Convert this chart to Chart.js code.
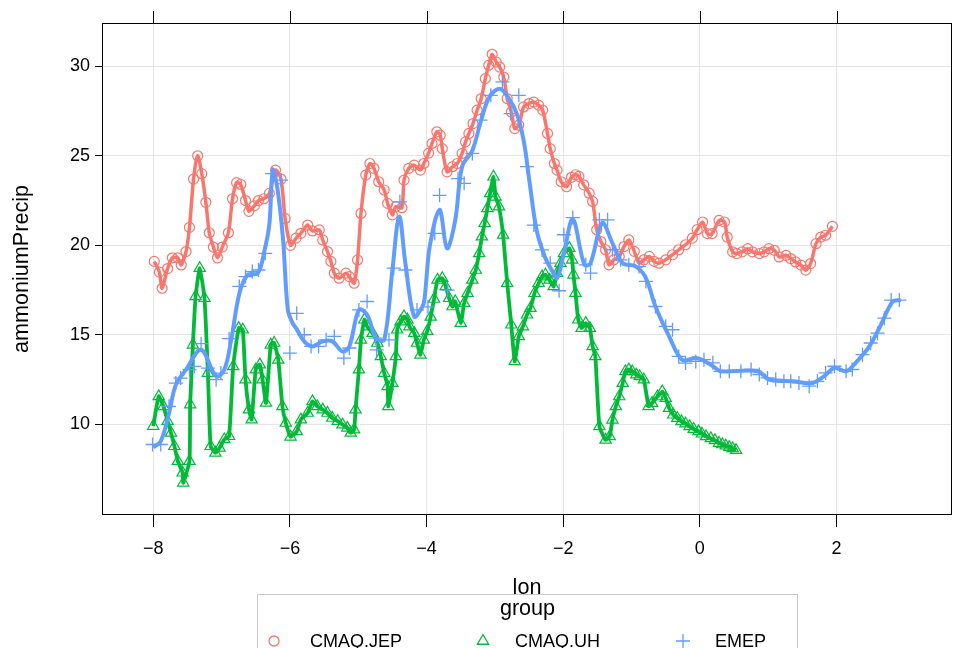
<!DOCTYPE html>
<html><head><meta charset="utf-8">
<script src="https://cdn.jsdelivr.net/npm/chart.js@4.4.1/dist/chart.umd.min.js"></script>
<style>html,body{margin:0;padding:0;background:#fff}#wrap{width:954px;height:648px;position:relative;overflow:hidden}</style>
</head><body><div id="wrap"><canvas id="c" width="954" height="648"></canvas></div>
<script>
// ---- data ----
const xTicks = [-8, -6, -4, -2, 0, 2];
const yTicks = [10, 15, 20, 25, 30];
const groupNames = ['CMAQ.JEP', 'CMAQ.UH', 'EMEP'];

const jepLon = [-7.985,-7.91,-7.87,-7.79,-7.72,-7.64,-7.59,-7.52,-7.47,-7.41,-7.35,-7.29,-7.23,-7.18,-7.12,-7.06,-6.99,-6.9,-6.84,-6.78,-6.72,-6.65,-6.6,-6.52,-6.46,-6.38,-6.3,-6.21,-6.13,-6.07,-5.99,-5.91,-5.84,-5.74,-5.67,-5.57,-5.52,-5.45,-5.4,-5.35,-5.28,-5.18,-5.13,-5.06,-5.01,-4.96,-4.89,-4.83,-4.77,-4.7,-4.62,-4.57,-4.5,-4.45,-4.36,-4.33,-4.26,-4.18,-4.09,-4.04,-3.97,-3.92,-3.85,-3.8,-3.77,-3.7,-3.62,-3.55,-3.48,-3.43,-3.38,-3.32,-3.26,-3.2,-3.14,-3.09,-3.04,-2.98,-2.93,-2.87,-2.82,-2.76,-2.71,-2.65,-2.58,-2.5,-2.43,-2.36,-2.3,-2.23,-2.19,-2.13,-2.09,-2.03,-1.95,-1.88,-1.82,-1.77,-1.7,-1.62,-1.57,-1.51,-1.45,-1.38,-1.33,-1.26,-1.18,-1.11,-1.04,-0.96,-0.89,-0.82,-0.74,-0.67,-0.6,-0.5,-0.4,-0.31,-0.21,-0.11,-0.04,0.04,0.11,0.18,0.28,0.36,0.4,0.48,0.54,0.62,0.7,0.77,0.87,0.94,1.01,1.09,1.16,1.26,1.33,1.4,1.48,1.55,1.62,1.7,1.77,1.84,1.94];
const jepVal = [19.1,18.5,17.6,18.7,19.3,19.3,18.9,19.65,21.0,23.7,25.0,24.0,22.4,20.7,19.9,19.3,19.9,20.7,22.6,23.5,23.4,22.5,21.9,22.2,22.5,22.6,22.9,24.2,23.7,21.5,20.0,20.4,20.67,21.13,20.8,20.86,20.3,19.65,19.1,18.44,18.16,18.44,18.25,17.88,19.18,21.78,23.92,24.57,24.3,23.55,23.09,22.34,21.7,22.16,22.1,23.64,24.3,24.48,24.2,24.57,25.15,25.69,26.34,26.15,25.4,24.1,24.39,24.57,25.13,25.78,26.25,26.8,27.55,28.2,29.31,30.06,30.67,30.24,29.96,29.4,28.2,27.45,26.52,26.71,27.73,27.92,28.0,27.83,27.55,26.25,25.4,24.57,24.2,23.55,23.27,23.8,23.94,23.85,23.38,22.91,22.45,20.87,20.21,19.75,18.91,19.19,19.38,19.93,20.3,19.66,19.0,19.19,19.38,19.1,19.0,19.19,19.47,19.75,20.03,20.4,20.87,21.3,20.65,20.65,21.39,21.3,20.46,19.63,19.54,19.63,19.81,19.63,19.54,19.63,19.81,19.72,19.35,19.44,19.26,19.07,18.89,18.61,18.98,20.09,20.46,20.56,21.06];

const uhLon = [-8.0,-7.92,-7.85,-7.79,-7.74,-7.69,-7.64,-7.57,-7.56,-7.47,-7.46,-7.42,-7.38,-7.32,-7.25,-7.2,-7.16,-7.09,-7.03,-6.96,-6.89,-6.83,-6.75,-6.69,-6.65,-6.6,-6.56,-6.5,-6.44,-6.4,-6.35,-6.28,-6.23,-6.17,-6.11,-6.06,-5.99,-5.9,-5.84,-5.74,-5.67,-5.6,-5.52,-5.45,-5.38,-5.3,-5.23,-5.16,-5.11,-5.06,-5.04,-4.99,-4.96,-4.91,-4.87,-4.79,-4.72,-4.67,-4.62,-4.57,-4.56,-4.5,-4.45,-4.43,-4.38,-4.33,-4.28,-4.25,-4.18,-4.14,-4.09,-4.04,-3.99,-3.94,-3.89,-3.84,-3.77,-3.72,-3.67,-3.62,-3.58,-3.5,-3.45,-3.4,-3.33,-3.28,-3.23,-3.19,-3.15,-3.11,-3.07,-3.02,-2.99,-2.94,-2.88,-2.82,-2.76,-2.71,-2.65,-2.59,-2.53,-2.48,-2.42,-2.36,-2.31,-2.26,-2.2,-2.14,-2.09,-2.04,-1.99,-1.91,-1.87,-1.85,-1.82,-1.78,-1.73,-1.67,-1.61,-1.57,-1.53,-1.47,-1.38,-1.32,-1.28,-1.23,-1.18,-1.13,-1.09,-1.04,-0.99,-0.93,-0.88,-0.82,-0.75,-0.7,-0.62,-0.55,-0.5,-0.45,-0.39,-0.33,-0.27,-0.21,-0.15,-0.09,-0.02,0.03,0.09,0.16,0.22,0.28,0.33,0.38,0.43,0.48,0.53];
const uhVal = [9.9,11.56,11.0,10.17,9.52,8.77,7.94,7.29,6.73,7.94,11.1,14.44,17.14,18.72,17.04,12.86,8.77,8.4,8.68,9.15,9.33,13.23,15.37,15.28,12.49,10.82,10.26,13.05,13.33,12.49,11.19,14.44,14.54,13.6,11.0,10.07,9.3,9.6,10.26,10.63,11.28,11.0,10.82,10.63,10.35,10.17,9.98,9.8,9.52,9.7,10.82,13.05,14.72,15.84,15.46,15.09,14.54,13.79,12.86,12.12,11.0,12.3,13.79,15.28,15.74,16.02,15.84,15.46,15.09,14.54,13.88,14.72,15.2,16.0,17.0,18.07,18.16,17.7,17.04,16.58,16.86,15.65,16.77,17.32,18.07,18.62,19.55,20.48,21.23,22.06,22.9,23.83,22.71,22.16,20.58,17.88,15.56,13.51,14.91,15.46,16.12,16.49,17.32,17.88,18.25,18.35,18.07,17.7,18.44,19.0,19.55,19.84,19.19,18.35,17.33,15.84,15.37,15.65,15.37,14.35,13.79,9.88,9.13,9.32,10.25,11.0,11.55,12.3,12.95,13.05,12.95,12.77,12.67,12.49,11.0,11.18,11.55,11.83,11.46,10.9,10.53,10.34,10.16,10.03,9.88,9.73,9.6,9.47,9.32,9.21,9.1,8.95,8.87,8.8,8.72,8.65,8.55];

const emepLon = [-8.01,-7.89,-7.77,-7.67,-7.6,-7.47,-7.4,-7.3,-7.2,-7.08,-7.01,-6.89,-6.74,-6.65,-6.55,-6.46,-6.36,-6.26,-6.13,-6.0,-5.9,-5.79,-5.69,-5.58,-5.47,-5.35,-5.21,-5.13,-4.99,-4.87,-4.75,-4.73,-4.55,-4.48,-4.39,-4.31,-4.14,-3.98,-3.88,-3.81,-3.69,-3.54,-3.45,-3.33,-3.21,-3.06,-2.89,-2.77,-2.65,-2.53,-2.43,-2.31,-2.19,-2.06,-1.99,-1.86,-1.67,-1.6,-1.47,-1.35,-1.28,-1.16,-1.04,-0.89,-0.79,-0.65,-0.5,-0.4,-0.31,-0.21,-0.06,0.06,0.19,0.3,0.43,0.6,0.75,0.87,0.99,1.11,1.23,1.33,1.45,1.6,1.72,1.84,1.97,2.14,2.23,2.38,2.5,2.6,2.7,2.8,2.92];
const emepVal = [8.87,8.87,11.0,12.3,12.58,13.05,13.23,14.5,13.14,12.49,12.86,14.78,17.7,18.25,18.53,18.62,19.55,24.0,23.64,13.98,16.2,15.0,14.35,14.35,14.72,14.91,13.7,14.26,16.39,16.86,14.81,14.16,14.72,18.72,22.43,18.62,16.39,16.56,20.67,22.79,17.49,23.72,23.46,25.13,26.99,28.38,29.13,27.36,28.38,24.39,21.13,19.74,19.0,17.46,20.59,21.55,18.91,18.45,21.42,21.42,19.75,19.19,18.91,18.82,17.98,16.58,15.47,15.28,13.79,13.42,13.51,13.61,13.43,12.96,12.96,12.96,13.06,12.78,12.59,12.5,12.4,12.4,12.31,12.13,12.4,12.87,13.24,12.96,13.06,13.89,14.54,15.09,15.93,16.94,16.94];

const emepFitLon = [-8.0,-7.89,-7.77,-7.67,-7.52,-7.3,-7.08,-6.96,-6.86,-6.74,-6.62,-6.47,-6.37,-6.3,-6.25,-6.18,-6.1,-6.03,-5.96,-5.91,-5.79,-5.67,-5.52,-5.38,-5.23,-5.13,-4.99,-4.87,-4.74,-4.62,-4.5,-4.4,-4.31,-4.18,-4.06,-4.03,-3.97,-3.93,-3.86,-3.8,-3.7,-3.58,-3.48,-3.33,-3.2,-3.08,-2.93,-2.81,-2.68,-2.58,-2.49,-2.39,-2.27,-2.17,-2.09,-1.99,-1.86,-1.69,-1.6,-1.43,-1.28,-1.13,-0.94,-0.79,-0.65,-0.45,-0.26,-0.06,0.08,0.23,0.3,0.85,1.01,1.36,1.65,1.82,1.97,2.14,2.28,2.48,2.65,2.82,2.94];
const emepFitVal = [8.7,9.05,10.6,12.2,13.05,14.16,12.68,13.05,14.7,17.3,18.35,18.44,19.74,21.2,24.2,23.1,20.3,16.4,15.65,15.37,14.63,14.35,14.63,14.63,14.07,14.35,16.39,16.12,14.81,14.72,18.62,21.6,19.0,16.02,16.58,17.0,19.5,20.4,21.6,21.97,19.83,21.41,24.39,25.3,27.0,28.29,28.75,28.29,27.36,25.87,23.46,20.86,19.37,18.62,18.16,19.55,21.45,18.91,19.0,21.24,20.12,19.0,18.82,18.17,16.58,14.91,13.6,13.7,13.51,13.14,12.96,12.96,12.5,12.4,12.31,12.69,13.15,12.96,13.43,14.35,15.56,16.85,16.94];

// ---- helpers / styling ----
const COL = {jep: '#F8766D', uh: '#00BA38', emep: '#619CFF'};
const FONT = '"Liberation Sans", Arial, Helvetica, sans-serif';
const pts = (xs, ys) => xs.map((x, i) => ({x: x, y: ys[i]}));

const framePlugin = {
  id: 'frame',
  afterDraw(chart) {
    const {ctx, chartArea: a, scales} = chart;
    ctx.save();
    ctx.strokeStyle = '#000';
    ctx.lineWidth = 1;
    ctx.strokeRect(Math.round(a.left) + 0.5, Math.round(a.top) + 0.5,
                   Math.round(a.right - a.left) - 1, Math.round(a.bottom - a.top) - 1);
    // tick marks on the top edge (no labels), as in lattice
    ctx.beginPath();
    xTicks.forEach(v => {
      const px = Math.round(scales.x.getPixelForValue(v)) + 0.5;
      ctx.moveTo(px, Math.round(a.top));
      ctx.lineTo(px, Math.round(a.top) - 12);
    });
    ctx.stroke();
    ctx.restore();
  }
};

function drawSymbol(ctx, kind, x, y, color) {
  ctx.save();
  ctx.strokeStyle = color;
  ctx.lineWidth = 1.3;
  ctx.beginPath();
  if (kind === 'circle') {
    ctx.arc(x, y, 5, 0, Math.PI * 2);
  } else if (kind === 'triangle') {
    const r = 6.5;
    for (let k = 0; k < 3; k++) {
      const ang = k * 2 * Math.PI / 3;
      const px = x + Math.sin(ang) * r, py = y - Math.cos(ang) * r;
      if (k === 0) ctx.moveTo(px, py); else ctx.lineTo(px, py);
    }
    ctx.closePath();
  } else {
    ctx.moveTo(x - 7, y); ctx.lineTo(x + 7, y);
    ctx.moveTo(x, y - 7); ctx.lineTo(x, y + 7);
  }
  ctx.stroke();
  ctx.restore();
}

const legendPlugin = {
  id: 'latticeKey',
  afterDraw(chart) {
    const ctx = chart.ctx;
    ctx.save();
    ctx.strokeStyle = '#c8c8c8';
    ctx.lineWidth = 1;
    ctx.strokeRect(257.5, 594.5, 540, 80);
    ctx.fillStyle = '#000';
    ctx.textBaseline = 'middle';
    ctx.textAlign = 'center';
    ctx.font = '21.6px ' + FONT;
    ctx.fillText('group', 527.5, 609);
    ctx.font = '18px ' + FONT;
    ctx.textAlign = 'left';
    const kinds = ['circle', 'triangle', 'cross'];
    const cols = [COL.jep, COL.uh, COL.emep];
    const symX = [274, 483, 683];
    const txtX = [310, 515, 715];
    groupNames.forEach((g, i) => {
      drawSymbol(ctx, kinds[i], symX[i], 641, cols[i]);
      ctx.fillStyle = '#000';
      ctx.fillText(g, txtX[i], 642);
    });
    ctx.restore();
  }
};

const gridCol = '#e6e6e6';

new Chart(document.getElementById('c'), {
  type: 'scatter',
  data: {
    datasets: [
      {
        label: groupNames[0], data: pts(jepLon, jepVal), showLine: true, order: 3,
        borderColor: COL.jep, borderWidth: 3.5, tension: 0.25,
        pointStyle: 'circle', pointRadius: 5, pointBorderWidth: 1.2,
        pointBorderColor: COL.jep, pointBackgroundColor: 'rgba(0,0,0,0)'
      },
      {
        label: groupNames[1], data: pts(uhLon, uhVal), showLine: true, order: 2,
        borderColor: COL.uh, borderWidth: 3.8, tension: 0.15,
        pointStyle: 'triangle', pointRadius: 6.5, pointBorderWidth: 1.2,
        pointBorderColor: COL.uh, pointBackgroundColor: 'rgba(0,0,0,0)'
      },
      {
        label: groupNames[2] + ' smooth', data: pts(emepFitLon, emepFitVal), showLine: true, order: 1,
        borderColor: COL.emep, borderWidth: 4, tension: 0.35, pointRadius: 0
      },
      {
        label: groupNames[2], data: pts(emepLon, emepVal), showLine: false, order: 0,
        pointStyle: 'cross', pointRadius: 7, pointBorderWidth: 1.3,
        pointBorderColor: COL.emep, pointBackgroundColor: 'rgba(0,0,0,0)'
      }
    ]
  },
  options: {
    responsive: false,
    animation: false,
    events: [],
    devicePixelRatio: 1,
    layout: {autoPadding: false, padding: {left: 0, right: 2, top: 23, bottom: 47}},
    plugins: {legend: {display: false}, tooltip: {enabled: false}},
    scales: {
      x: {
        type: 'linear', position: 'bottom', min: -8.75, max: 3.69,
        afterBuildTicks: s => { s.ticks = xTicks.map(v => ({value: v})); },
        afterFit: s => { s.height = 86; s.paddingLeft = 0; s.paddingRight = 0; },
        grid: {color: gridCol, lineWidth: 1, tickColor: '#000', tickLength: 12, drawTicks: true},
        border: {display: false},
        ticks: {color: '#000', font: {family: FONT, size: 18}, padding: 11, maxRotation: 0,
                callback: v => (v < 0 ? '\u2212' + Math.abs(v) : String(v))},
        title: {display: true, text: 'lon', color: '#000', font: {family: FONT, size: 21.6}, padding: {top: 0, bottom: 0}}
      },
      y: {
        type: 'linear', position: 'left', min: 4.93, max: 32.42,
        afterBuildTicks: s => { s.ticks = yTicks.map(v => ({value: v})); },
        afterFit: s => { s.width = 102; s.paddingTop = 0; s.paddingBottom = 0; },
        grid: {color: gridCol, lineWidth: 1, tickColor: '#000', tickLength: 7, drawTicks: true},
        border: {display: false},
        ticks: {color: '#000', font: {family: FONT, size: 18}, padding: 5},
        title: {display: true, text: 'ammoniumPrecip', color: '#000', font: {family: FONT, size: 21.6}, padding: {top: 9, bottom: 0}}
      }
    }
  },
  plugins: [framePlugin, legendPlugin]
});
</script></body></html>
